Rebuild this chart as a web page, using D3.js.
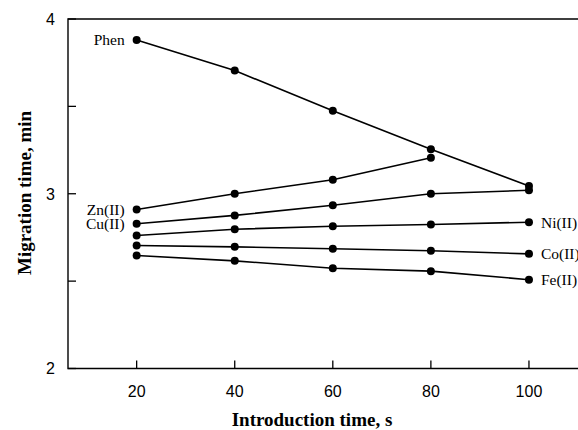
<!DOCTYPE html>
<html>
<head>
<meta charset="utf-8">
<script src="https://cdn.jsdelivr.net/npm/d3@7"></script>
<style>
  body { margin: 0; background: #fff; }
  svg { display: block; }
</style>
</head>
<body>
<svg id="chart" width="578" height="430"></svg>
<script>
// introduction time (s)
const introTimes = [20, 40, 60, 80, 100];
// migration times (min)
const phen = [3.88, 3.705, 3.475, 3.255, 3.045];
const zn   = [2.91, 3.0, 3.08, 3.206];
const cu   = [2.828, 2.876, 2.934, 3.0, 3.02];
const ni   = [2.761, 2.797, 2.814, 2.824, 2.837];
const co   = [2.704, 2.696, 2.685, 2.674, 2.656];
const fe   = [2.647, 2.616, 2.574, 2.557, 2.508];
const xTicks = [20, 40, 60, 80, 100];
const yTicks = [2, 3, 4];
const yMinor = [2.5, 3.5];

const series = [
  {name: 'Phen',   values: phen, side: 'left'},
  {name: 'Zn(II)', values: zn,   side: 'left'},
  {name: 'Cu(II)', values: cu,   side: 'left'},
  {name: 'Ni(II)', values: ni,   side: 'right'},
  {name: 'Co(II)', values: co,   side: 'right'},
  {name: 'Fe(II)', values: fe,   side: 'right'}
];

const svg = d3.select('#chart');
const m = {l: 68, t: 19, b: 368.5, r: 578};

const x = d3.scaleLinear().domain([6, 110]).range([m.l, m.r]);
const y = d3.scaleLinear().domain([2, 4]).range([m.b, m.t]);

// frame: left, top, bottom (right edge falls outside the picture)
svg.append('path')
  .attr('d', `M${m.r},${m.t}H${m.l}V${m.b}H${m.r}`)
  .attr('fill', 'none').attr('stroke', '#000').attr('stroke-width', 1.4);

// y ticks point inward
const gy = svg.append('g').attr('transform', `translate(${m.l},0)`);
gy.selectAll('line').data(yTicks.concat(yMinor)).enter().append('line')
  .attr('x1', 0).attr('x2', 8)
  .attr('y1', d => y(d)).attr('y2', d => y(d))
  .attr('stroke', '#000').attr('stroke-width', 1.3);
gy.selectAll('text').data(yTicks).enter().append('text')
  .attr('x', -13).attr('y', d => y(d)).attr('dy', '0.36em')
  .attr('text-anchor', 'end')
  .style('font-family', '"Liberation Sans", Arial, sans-serif')
  .style('font-size', '16px')
  .text(d => d);

// x ticks point inward (up)
const gx = svg.append('g').attr('transform', `translate(0,${m.b})`);
gx.selectAll('line').data(xTicks).enter().append('line')
  .attr('x1', d => x(d)).attr('x2', d => x(d))
  .attr('y1', 0).attr('y2', -8)
  .attr('stroke', '#000').attr('stroke-width', 1.3);
gx.selectAll('text').data(xTicks).enter().append('text')
  .attr('x', d => x(d)).attr('y', 28)
  .attr('text-anchor', 'middle')
  .style('font-family', '"Liberation Sans", Arial, sans-serif')
  .style('font-size', '16px')
  .text(d => d);

// axis titles
svg.append('text')
  .attr('x', 312).attr('y', 426)
  .attr('text-anchor', 'middle')
  .style('font-family', '"Liberation Serif", "Times New Roman", serif')
  .style('font-weight', 'bold').style('font-size', '19px')
  .text('Introduction time, s');
svg.append('text')
  .attr('transform', 'translate(31,193) rotate(-90)')
  .attr('text-anchor', 'middle')
  .style('font-family', '"Liberation Serif", "Times New Roman", serif')
  .style('font-weight', 'bold').style('font-size', '19px')
  .text('Migration time, min');

// lines and markers
const line = d3.line().x((d, i) => x(introTimes[i])).y(d => y(d));
const gs = svg.selectAll('g.series').data(series).enter().append('g').attr('class', 'series');
gs.append('path')
  .attr('d', d => line(d.values))
  .attr('fill', 'none').attr('stroke', '#000').attr('stroke-width', 1.6);
gs.selectAll('circle').data(d => d.values).enter().append('circle')
  .attr('cx', (d, i) => x(introTimes[i])).attr('cy', d => y(d))
  .attr('r', 4).attr('fill', '#000');

// series labels
gs.append('text')
  .attr('x', d => d.side === 'left' ? x(introTimes[0]) - 12 : x(introTimes[d.values.length - 1]) + 12)
  .attr('y', d => d.side === 'left' ? y(d.values[0]) : y(d.values[d.values.length - 1]))
  .attr('dy', '0.35em')
  .attr('text-anchor', d => d.side === 'left' ? 'end' : 'start')
  .style('font-family', '"Liberation Serif", "Times New Roman", serif')
  .style('font-size', '15.5px')
  .text(d => d.name);
</script>
</body>
</html>
